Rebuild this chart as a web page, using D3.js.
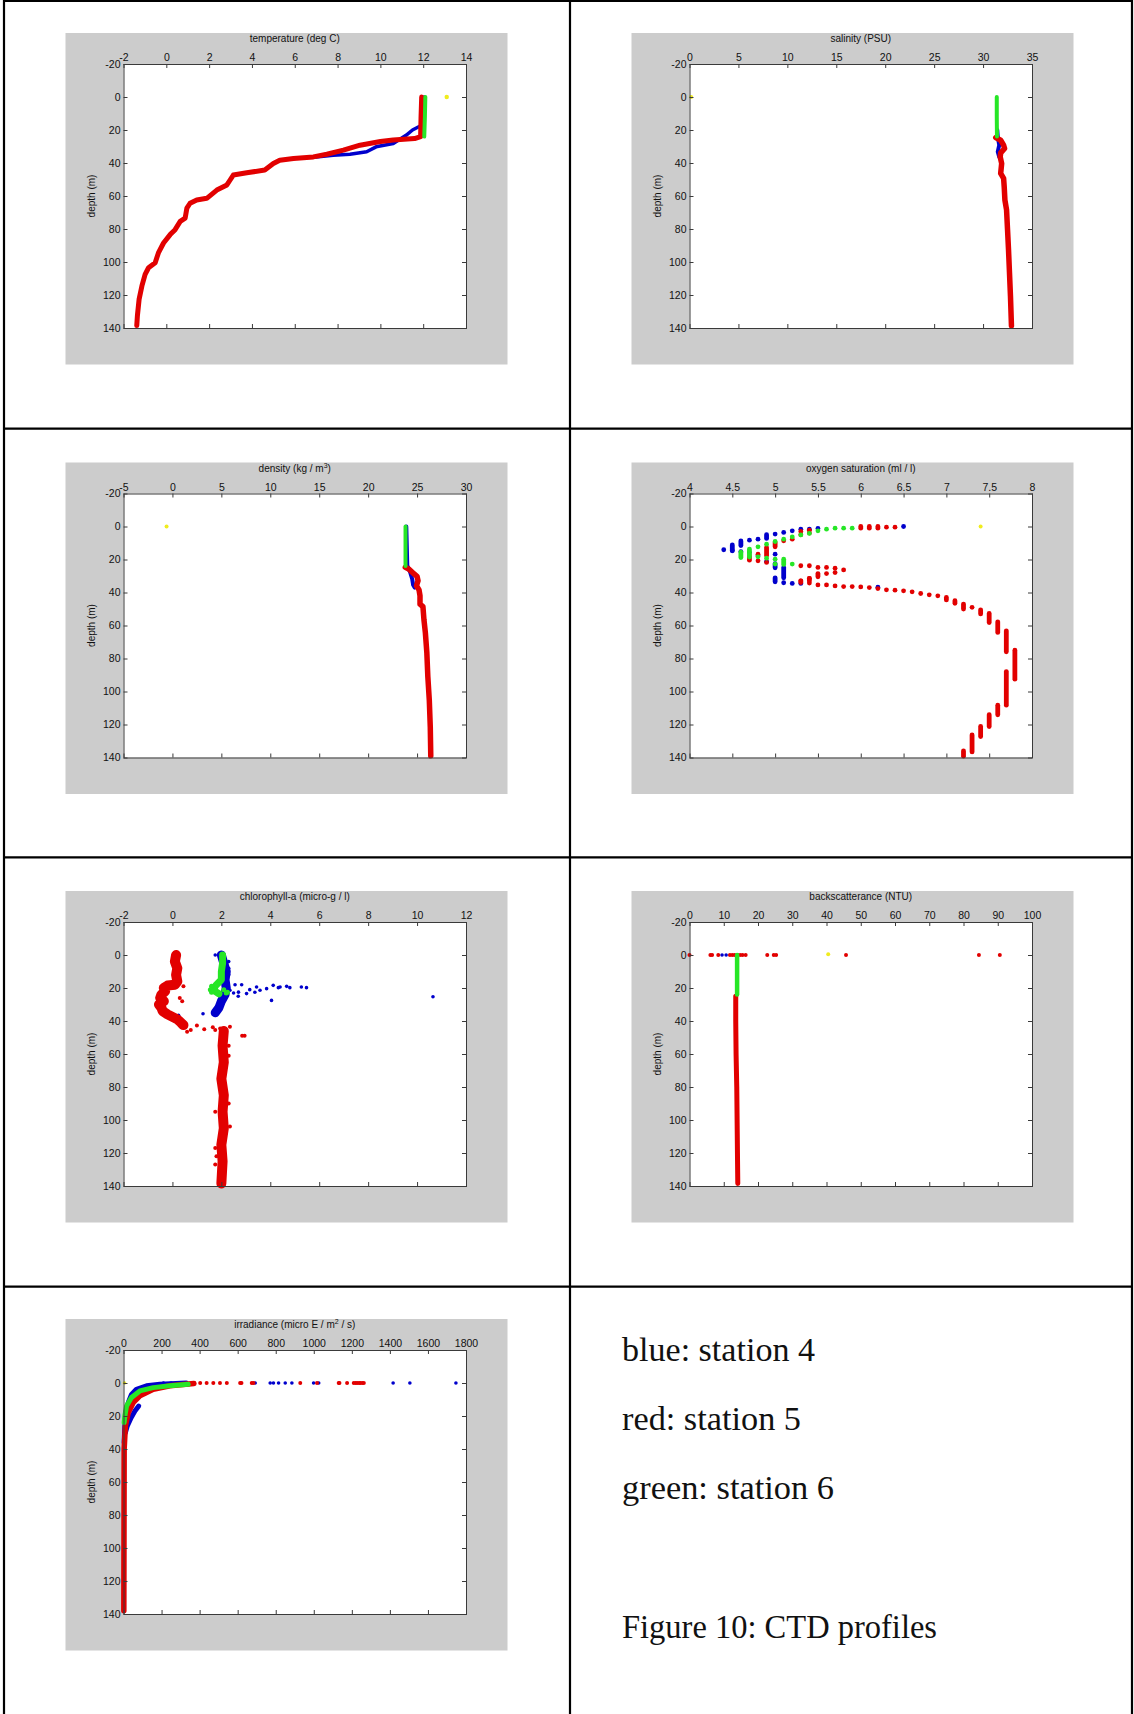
<!DOCTYPE html>
<html>
<head>
<meta charset="utf-8">
<script src="https://cdn.jsdelivr.net/npm/d3@7"></script>
<style>
body { margin: 0; background: #fff; }
svg { display: block; }
.tick text { font-family: "Liberation Sans", Arial, sans-serif; font-size: 10.5px; fill: #111; }
.tick line { stroke: #3a3a3a; }
.ttl { font-family: "Liberation Sans", Arial, sans-serif; font-size: 10px; fill: #111; }
.note { font-family: "Liberation Serif", "Times New Roman", serif; font-size: 34px; fill: #111; }
</style>
</head>
<body>
<script>
const WIDTH = 1134;
const HEIGHT = 1714;

const RED = "#e20000";
const BLUE = "#0000cc";
const GREEN = "#26e626";
const YELLOW = "#f0ec1e";

// depth axis shared by every panel
const depthTicks = [-20, 0, 20, 40, 60, 80, 100, 120, 140];

// temperature (deg C) : [value, depth]
const tempTicks = [-2, 0, 2, 4, 6, 8, 10, 12, 14];
const tempBlue = [[12.05,0],[12.0,10],[11.95,17],[11.5,20],[11.2,23.2],[10.6,28.2],[9.8,30.2],[9.36,33.2],[8.58,34.7],[7.8,35.3],[7.0,36.3]];
const tempRed = [[11.93,0],[11.9,12],[11.88,24],[11.6,25.2],[10.6,26],[10.0,27],[9.05,29.2],[8.27,32.2],[7.5,34.7],[6.87,36.3],[5.94,37.3],[5.3,38.3],[5.0,40.3],[4.6,44.3],[3.76,45.9],[3.13,47.3],[2.98,50.3],[2.83,53.3],[2.36,56.4],[1.89,61.4],[1.42,62.4],[1.11,64.4],[0.96,67.4],[0.88,73.4],[0.65,75.4],[0.41,80.4],[0.18,83.4],[-0.13,88.5],[-0.37,94.5],[-0.52,100.5],[-0.83,103.5],[-0.99,107.5],[-1.14,114.5],[-1.27,122.5],[-1.35,132.5],[-1.38,138.5]];
const tempGreen = [[12.1,0],[12.08,12],[12.05,24]];
const tempYellow = [[13.1,0]];

// salinity (PSU)
const salTicks = [0, 5, 10, 15, 20, 25, 30, 35];
const salBlue = [[31.45,20],[31.5,24],[31.65,29.2],[31.5,33.2],[31.65,36.3]];
const salRed = [[31.3,24.6],[31.8,26.2],[32.1,29.2],[32.2,31.2],[31.8,33.9],[31.75,36.3],[31.9,40.3],[31.8,46.3],[32.1,49.3],[32.16,54.4],[32.23,62.4],[32.4,68.4],[32.5,80.4],[32.6,92.5],[32.7,106.6],[32.8,120.7],[32.9,138.6]];
const salGreen = [[31.4,0],[31.4,12],[31.42,24]];
const salYellow = [[0.17,0]];

// density (kg / m3)
const denTicks = [-5, 0, 5, 10, 15, 20, 25, 30];
const denBlue = [[23.9,0],[24.0,23.7],[24.3,27.8],[24.5,31.8],[24.6,35.5],[24.75,37]];
const denRed = [[23.8,24.7],[24.15,25.7],[24.7,28.8],[25.0,30.2],[25.1,32.9],[24.94,35.9],[25.2,38.4],[25.3,42],[25.3,47.1],[25.6,48.6],[25.7,56.3],[25.85,64.5],[26.0,76.7],[26.1,91],[26.25,105.3],[26.35,121.6],[26.4,139]];
const denGreen = [[23.82,0],[23.82,12],[23.82,24]];
const denYellow = [[-0.6,0]];

// oxygen saturation (ml / l) : single readings and [value, top, bottom] runs
const oxyTicks = [4, 4.5, 5, 5.5, 6, 6.5, 7, 7.5, 8];
const oxyBlueDots = [[6.5,0],[5.5,1.2],[5.4,1.6],[5.3,1.6],[5.2,2.6],[5.1,3.6],[5.0,4.6],[4.8,7.7],[4.7,8.3],[4.4,14.1],[4.5,14.7],[4.6,15.2],[4.7,15.8],[4.8,17.8],[4.9,21.2],[5.0,16.8],[5.1,34.1],[5.2,34.5],[5.3,34.5],[6.2,36.8]];
const oxyBlueRuns = [[4.9,5,7.2],[4.6,8.8,11.5],[4.5,11.2,14.6],[5.0,22.5,25],[5.1,24.8,31.1],[5.0,31.1,33.5]];
const oxyRedDots = [[6.4,0.4],[6.3,0.4],[5.4,2.2],[5.3,3],[5.4,4],[5.3,5],[5.2,7.7],[5.1,8.7],[4.8,16.8],[4.8,20.8],[4.9,21.8],[5.3,23.8],[5.4,23.8],[5.5,24.8],[5.6,24.8],[5.7,25.3],[5.8,26.3],[5.7,27.9],[5.6,28.5],[5.4,31.5],[5.3,32.9],[5.4,34.3],[5.5,35.4],[5.6,35.4],[5.7,36],[5.8,36.4],[5.9,36.4],[6.0,36.6],[6.1,37],[6.2,37.6],[6.3,38.4],[6.4,38.6],[6.5,39],[6.6,39.6],[6.7,40.6],[6.8,41.4],[6.9,42],[7.3,49]];
const oxyRedRuns = [[6.0,0,1],[6.1,0,1],[6.2,0,1],[5.0,9.7,12.3],[4.9,12.7,17.8],[4.7,18,20.4],[5.5,28.5,30.5],[5.4,31.5,33],[5.3,33,34],[7.0,43,44.5],[7.1,45,46.5],[7.2,47,50],[7.4,50.5,53],[7.5,52.7,58.2],[7.6,57.8,64.2],[7.7,63.2,75.9],[7.8,75,92.5],[7.7,87.9,108.3],[7.6,108.3,114.1],[7.5,114.1,121.2],[7.4,121.2,127.3],[7.3,126.3,136.6],[7.2,136,139.2]];
const oxyGreenDots = [[5.9,1],[5.8,1],[5.7,1],[5.6,1.6],[5.5,2.6],[5.4,4.2],[5.3,5.1],[5.2,6.3],[5.1,7.7],[5.0,9.1],[4.9,10.7],[4.8,12.3],[4.8,18.4],[4.9,19.2],[5.0,19.8],[5.0,22.8],[5.2,22.8]];
const oxyGreenRuns = [[4.7,13.7,15.8],[4.6,15.6,18.8],[4.7,16.8,18.5],[5.1,19.8,23]];
const oxyYellow = [[7.4,0]];

// chlorophyll-a (micro-g / l)
const chlTicks = [-2, 0, 2, 4, 6, 8, 10, 12];
const chlBlue = [[2.0,0],[2.1,5],[2.2,10],[2.15,15],[2.2,20],[2.15,24],[2.0,28],[1.9,32],[1.75,35]];
const chlBlueDots = [[1.75,0],[2.3,4],[2.3,8],[2.3,12],[2.56,18],[2.83,18],[2.35,21.4],[3.16,21],[3.44,19.4],[3.58,21.4],[3.85,20.4],[4.12,18.4],[4.33,19.8],[4.4,19.4],[4.67,19],[4.8,19.8],[5.27,19.4],[5.48,19.8],[4.05,27.5],[3.03,23.4],[2.69,25],[3.37,22.6],[2.5,23],[2.7,22.5],[10.65,25.3],[1.25,35.6],[-0.1,36],[0.05,36.3],[0.25,36.5],[0.15,37.8]];
const chlRedTop = [[0.15,0],[0.1,4],[0.2,8],[0.15,12],[0.2,16],[0.1,18],[-0.2,18.5],[-0.35,20],[-0.3,22],[-0.45,24],[-0.5,26],[-0.35,28],[-0.55,30],[-0.45,32],[-0.4,34],[-0.2,36],[0.0,37.5],[0.2,39],[0.35,41],[0.45,42.5]];
const chlRedLow = [[2.1,46],[2.05,55],[2.1,65],[2.0,75],[2.1,85],[2.05,95],[2.1,105],[2.0,115],[2.05,125],[2.0,138.5]];
const chlRedDots = [[0.45,19],[0.3,26],[0.4,28],[0.45,44],[0.6,46.5],[0.75,45.5],[1.0,42.8],[1.3,45],[1.65,43.8],[1.75,45.5],[1.95,44.6],[2.35,43.5],[2.85,49],[2.95,49],[2.3,55],[2.3,61],[2.3,90],[1.75,95],[2.35,104],[1.75,117],[1.8,122],[1.75,127]];
const chlGreen = [[2.05,0],[2.05,5],[2.0,10],[2.0,15],[1.8,18],[1.7,20],[1.75,22],[1.9,23.5]];
const chlGreenDots = [[1.6,19],[1.55,21],[1.6,22.5],[2.2,23],[2.25,22.5],[2.1,21]];

// backscatterance (NTU)
const bsTicks = [0, 10, 20, 30, 40, 50, 60, 70, 80, 90, 100];
const bsBlueDots = [[9.5,0],[10.7,0]];
const bsRed = [[13.5,25],[13.5,40],[13.6,60],[13.8,80],[13.9,100],[14.0,120],[14.1,138.5]];
const bsRedDots = [[0,0],[6.1,0],[6.6,0],[8.4,0],[11.8,0],[12.5,0],[13.2,0],[14.0,0],[14.8,0],[15.5,0],[16.4,0],[22.7,0],[24.6,0],[25.3,0],[45.7,0],[84.5,0],[90.6,0]];
const bsGreen = [[13.9,0],[13.9,12],[13.9,24]];
const bsYellow = [[40.5,-0.5]];

// irradiance (micro E / m2 / s)
const irrTicks = [0, 200, 400, 600, 800, 1000, 1200, 1400, 1600, 1800];
const irrBlue = [[330,0],[191,0.8],[121,1.7],[68,3.8],[42,6.9],[25,11.9],[12,18],[7,26],[3.5,36]];
const irrBlueSpur = [[80,14],[60,17],[40,21],[20,26],[10,30]];
const irrBlueDots = [[210,0],[250,0],[290,0],[692,0],[771,0],[788,0],[815,0],[850,0],[885,0],[999,0],[1026,0],[1417,0],[1505,0],[1747,0]];
const irrRed = [[370,0.3],[244,1.7],[156,3.8],[86,7.8],[51,11.9],[25,18],[10,26],[3.5,40],[1.8,138]];
const irrRedDots = [[367,0],[403,0],[437,0],[472,0],[507,0],[543,0],[613,0],[620,0],[674,0],[683,0],[929,0],[1017,0],[1131,0],[1135,0],[1175,0],[1210,0],[1220,0],[1228,0],[1238,0],[1245,0],[1255,0],[1263,0]];
const irrGreen = [[340,0.8],[244,1.7],[156,2.8],[86,4.8],[42,8.8],[16,14],[7,20],[3.5,24]];
const irrYellow = [[5,0]];

const legendLines = ["blue: station 4", "red: station 5", "green: station 6"];
const caption = "Figure 10: CTD profiles";

const panels = [
    { col: 0, row: 0, title: [["temperature (deg C)"]], domain: [-2, 14], ticks: tempTicks, layers: [
        { kind: "line", data: tempBlue, color: BLUE, w: 3.5 },
        { kind: "line", data: tempRed, color: RED, w: 5 },
        { kind: "line", data: tempGreen, color: GREEN, w: 4 },
        { kind: "dots", data: tempYellow, color: YELLOW, r: 2.2 }] },
    { col: 1, row: 0, title: [["salinity (PSU)"]], domain: [0, 35], ticks: salTicks, layers: [
        { kind: "line", data: salBlue, color: BLUE, w: 4 },
        { kind: "line", data: salRed, color: RED, w: 5.5 },
        { kind: "line", data: salGreen, color: GREEN, w: 4 },
        { kind: "dots", data: salYellow, color: YELLOW, r: 2 }] },
    { col: 0, row: 1, title: [["density (kg / m"], ["3", true], [")"]], domain: [-5, 30], ticks: denTicks, layers: [
        { kind: "line", data: denBlue, color: BLUE, w: 4 },
        { kind: "line", data: denRed, color: RED, w: 5.5 },
        { kind: "line", data: denGreen, color: GREEN, w: 4 },
        { kind: "dots", data: denYellow, color: YELLOW, r: 2 }] },
    { col: 1, row: 1, title: [["oxygen saturation (ml / l)"]], domain: [4, 8], ticks: oxyTicks, layers: [
        { kind: "runs", data: oxyBlueRuns, color: BLUE, w: 4.8 },
        { kind: "dots", data: oxyBlueDots, color: BLUE, r: 2.4 },
        { kind: "runs", data: oxyRedRuns, color: RED, w: 4.8 },
        { kind: "dots", data: oxyRedDots, color: RED, r: 2.4 },
        { kind: "runs", data: oxyGreenRuns, color: GREEN, w: 4.8 },
        { kind: "dots", data: oxyGreenDots, color: GREEN, r: 2.4 },
        { kind: "dots", data: oxyYellow, color: YELLOW, r: 2 }] },
    { col: 0, row: 2, title: [["chlorophyll-a (micro-g / l)"]], domain: [-2, 12], ticks: chlTicks, layers: [
        { kind: "line", data: chlBlue, color: BLUE, w: 9 },
        { kind: "dots", data: chlBlueDots, color: BLUE, r: 1.8 },
        { kind: "line", data: chlRedTop, color: RED, w: 10 },
        { kind: "line", data: chlRedLow, color: RED, w: 10 },
        { kind: "dots", data: chlRedDots, color: RED, r: 2 },
        { kind: "line", data: chlGreen, color: GREEN, w: 7 },
        { kind: "dots", data: chlGreenDots, color: GREEN, r: 2.5 }] },
    { col: 1, row: 2, title: [["backscatterance (NTU)"]], domain: [0, 100], ticks: bsTicks, layers: [
        { kind: "dots", data: bsBlueDots, color: BLUE, r: 1.8 },
        { kind: "line", data: bsRed, color: RED, w: 5 },
        { kind: "dots", data: bsRedDots, color: RED, r: 2 },
        { kind: "line", data: bsGreen, color: GREEN, w: 4.5 },
        { kind: "dots", data: bsYellow, color: YELLOW, r: 2 }] },
    { col: 0, row: 3, title: [["irradiance (micro E / m"], ["2", true], [" / s)"]], domain: [0, 1800], ticks: irrTicks, layers: [
        { kind: "line", data: irrBlue, color: BLUE, w: 5 },
        { kind: "line", data: irrBlueSpur, color: BLUE, w: 5 },
        { kind: "dots", data: irrBlueDots, color: BLUE, r: 1.8 },
        { kind: "line", data: irrRed, color: RED, w: 5.5 },
        { kind: "dots", data: irrRedDots, color: RED, r: 2 },
        { kind: "line", data: irrGreen, color: GREEN, w: 5 },
        { kind: "dots", data: irrYellow, color: YELLOW, r: 1.8 }] }
];

const colLeft = [65.5, 631.5];
const rowTop = [33, 462.5, 891, 1319];

const svg = d3.select("body").append("svg")
    .attr("width", WIDTH)
    .attr("height", HEIGHT);

svg.append("rect").attr("width", WIDTH).attr("height", HEIGHT).attr("fill", "#fff");

panels.forEach(p => {
    const gx = colLeft[p.col];
    const gy = rowTop[p.row];
    const x0 = gx + 58, y0 = gy + 31, pw = 342.5, ph = 264;

    svg.append("rect").attr("x", gx).attr("y", gy)
        .attr("width", 442).attr("height", 331.5).attr("fill", "#cccccc");
    svg.append("rect").attr("x", x0).attr("y", y0)
        .attr("width", pw).attr("height", ph).attr("fill", "#fff");

    const xScale = d3.scaleLinear().domain(p.domain).range([x0, x0 + pw]);
    const yScale = d3.scaleLinear().domain([-20, 140]).range([y0, y0 + ph]);

    const g = svg.append("g");

    p.layers.forEach(l => {
        if (l.kind === "line") {
            g.append("path").datum(l.data)
                .attr("d", d3.line().x(d => xScale(d[0])).y(d => yScale(d[1])))
                .attr("fill", "none").attr("stroke", l.color).attr("stroke-width", l.w)
                .attr("stroke-linejoin", "round").attr("stroke-linecap", "round");
        } else if (l.kind === "runs") {
            g.selectAll(null).data(l.data).join("line")
                .attr("x1", d => xScale(d[0])).attr("x2", d => xScale(d[0]))
                .attr("y1", d => yScale(d[1])).attr("y2", d => yScale(d[2]))
                .attr("stroke", l.color).attr("stroke-width", l.w).attr("stroke-linecap", "round");
        } else {
            g.selectAll(null).data(l.data).join("circle")
                .attr("cx", d => xScale(d[0])).attr("cy", d => yScale(d[1]))
                .attr("r", l.r).attr("fill", l.color);
        }
    });

    // MATLAB style box: ticks inward on all four sides, labels top and left
    const fmt = d => String(d);
    svg.append("g").attr("transform", "translate(0," + y0 + ")")
        .call(d3.axisTop(xScale).tickValues(p.ticks).tickFormat(fmt).tickSizeInner(-4).tickSizeOuter(0).tickPadding(3));
    svg.append("g").attr("transform", "translate(0," + (y0 + ph) + ")")
        .call(d3.axisBottom(xScale).tickValues(p.ticks).tickFormat("").tickSizeInner(-4).tickSizeOuter(0));
    svg.append("g").attr("transform", "translate(" + x0 + ",0)")
        .call(d3.axisLeft(yScale).tickValues(depthTicks).tickFormat(fmt).tickSizeInner(-4).tickSizeOuter(0).tickPadding(3));
    svg.append("g").attr("transform", "translate(" + (x0 + pw) + ",0)")
        .call(d3.axisRight(yScale).tickValues(depthTicks).tickFormat("").tickSizeInner(-4).tickSizeOuter(0));
    svg.selectAll(".domain").remove();

    svg.append("rect").attr("x", x0 + 0.5).attr("y", y0 + 0.5)
        .attr("width", pw).attr("height", ph)
        .attr("fill", "none").attr("stroke", "#3a3a3a").attr("stroke-width", 1);

    const title = svg.append("text").attr("class", "ttl")
        .attr("x", x0 + pw / 2).attr("y", y0 - 22).attr("text-anchor", "middle");
    p.title.forEach(part => {
        const t = title.append("tspan").text(part[0]);
        if (part[1]) t.attr("dy", -4).attr("font-size", "7px");
        else if (title.selectAll("tspan").size() > 1) t.attr("dy", 4);
    });

    svg.append("text").attr("class", "ttl")
        .attr("transform", "translate(" + (x0 - 32) + "," + (y0 + ph / 2) + ") rotate(-90)")
        .attr("text-anchor", "middle").attr("dy", "0.35em")
        .text("depth (m)");
});

// table grid round the panels
const gridX = [4, 570, 1132];
const gridY = [1, 428.7, 857.3, 1286.7];
gridX.forEach(x => svg.append("line").attr("x1", x).attr("x2", x).attr("y1", 0).attr("y2", HEIGHT)
    .attr("stroke", "#000").attr("stroke-width", 2.2));
gridY.forEach(y => svg.append("line").attr("x1", 3).attr("x2", 1133).attr("y1", y).attr("y2", y)
    .attr("stroke", "#000").attr("stroke-width", 2.2));

// legend text and caption in the last cell
const noteY = [1361, 1430, 1499];
const noteLen = [193, 179, 212];
legendLines.forEach((s, i) => {
    svg.append("text").attr("class", "note").attr("x", 622).attr("y", noteY[i])
        .attr("textLength", noteLen[i]).attr("lengthAdjust", "spacingAndGlyphs").text(s);
});
svg.append("text").attr("class", "note").attr("x", 622).attr("y", 1638)
    .attr("textLength", 315).attr("lengthAdjust", "spacingAndGlyphs").text(caption);
</script>
</body>
</html>
